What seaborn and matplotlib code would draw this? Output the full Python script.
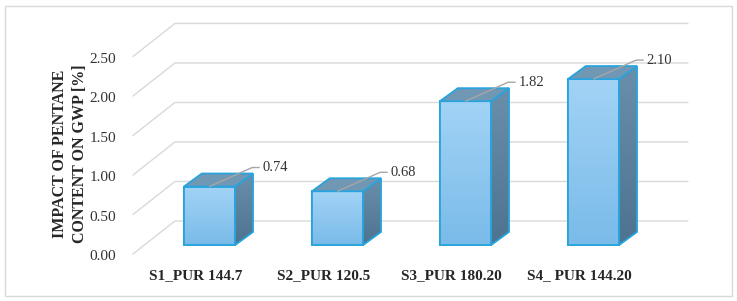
import matplotlib
matplotlib.use("Agg")
import matplotlib.pyplot as plt
import numpy as np
import pandas as pd
import seaborn as sns
from matplotlib.colors import LinearSegmentedColormap
from matplotlib.patches import Polygon, Rectangle

# data
scenarios = ['S1_PUR 144.7', 'S2_PUR 120.5', 'S3_PUR 180.20', 'S4_ PUR 144.20']
impact = [0.74, 0.68, 1.82, 2.10]
y_ticks = [0.0, 0.5, 1.0, 1.5, 2.0, 2.5]
y_label = 'IMPACT OF PENTANE\nCONTENT ON GWP [%]'

sns.set_style('white')
plt.rcParams['font.family'] = ['Liberation Serif', 'DejaVu Serif']

W, H = 737, 301
fig = plt.figure(figsize=(W / 100, H / 100), dpi=100)
ax = fig.add_axes([122 / W, (H - 262) / H, (720 - 122) / W, (262 - 10) / H])

df = pd.DataFrame({'scenario': scenarios, 'impact': impact})
sns.barplot(data=df, x='scenario', y='impact', width=0.4, color='#8ec6f0',
            edgecolor='#27a4dd', linewidth=1.3, ax=ax, zorder=3)

# 3d look: depth offsets in data units
dx, dy = 0.14, 0.165
edge = '#27a4dd'
front_cm = LinearSegmentedColormap.from_list('front', ['#a2d3f6', '#7abbe9'])
side_cm = LinearSegmentedColormap.from_list('side', ['#6a8fab', '#4d7390'])
grad = np.linspace(0, 1, 100).reshape(-1, 1)

for p in list(ax.patches):
    x0, y0 = p.get_x(), p.get_y()
    w, h = p.get_width(), p.get_height()
    x1 = x0 + w
    # extent bottom->top with origin upper: row 0 (light) at the top
    im = ax.imshow(grad, extent=[x0, x1, y0, y0 + h], aspect='auto', cmap=front_cm,
                   origin='upper', zorder=3.1)
    im.set_clip_path(p)
    ax.add_patch(Rectangle((x0, y0), w, h, fill=False, ec=edge, lw=1.3, zorder=3.2))

    side = Polygon([(x1, y0), (x1 + dx, y0 + dy), (x1 + dx, y0 + h + dy), (x1, y0 + h)],
                   closed=True, fc='#5a809c', ec='none', zorder=3)
    ax.add_patch(side)
    im2 = ax.imshow(grad, extent=[x1, x1 + dx, y0, y0 + h + dy], aspect='auto',
                    cmap=side_cm, origin='upper', zorder=3.1)
    im2.set_clip_path(side)
    ax.add_patch(Polygon(side.get_xy(), closed=True, fill=False, ec=edge, lw=1.3, zorder=3.2))

    top = Polygon([(x0, y0 + h), (x1, y0 + h), (x1 + dx, y0 + h + dy), (x0 + dx, y0 + h + dy)],
                  closed=True, fc='#7097b4', ec=edge, lw=1.3, zorder=3.2)
    ax.add_patch(top)

# gridlines on back wall and floor
back_off = 0.304
x_front, x_back, x_right = -0.598, -0.27, 3.738
for v in y_ticks:
    ax.plot([x_front, x_back, x_right], [v - 0.114, v + back_off, v + back_off],
            color='#d9d9d9', lw=1, zorder=1, clip_on=False)

# value labels with leader lines
for i, v in enumerate(impact):
    ax.annotate(f'{v:.2f}', xy=(i, v), xytext=(53, 19), textcoords='offset pixels',
                ha='left', va='center', fontsize=10.5, color='#333333',
                arrowprops=dict(arrowstyle='-', color='#a6a6a6', lw=1, shrinkA=0, shrinkB=0,
                                relpos=(0, 0.5),
                                connectionstyle='angle,angleA=0,angleB=24,rad=0'),
                zorder=5)

ax.set_xlim((122 - 209.5) / 128, (720 - 209.5) / 128)
ax.set_ylim((245 - 262) / 79, (245 - 10) / 79)

ax.set_yticks([v - 0.13 for v in y_ticks])
ax.set_yticklabels([f'{v:.2f}' for v in y_ticks], fontsize=11, color='#333333')
ax.set_xticks([i - 0.11 for i in range(len(scenarios))])
ax.set_xticklabels(scenarios, fontsize=11, fontweight='bold', color='#262626')
ax.tick_params(length=0)
ax.tick_params(axis='y', pad=4)
ax.tick_params(axis='x', pad=5)
ax.set_xlabel('')
ax.set_ylabel('')
for s in ax.spines.values():
    s.set_visible(False)
ax.patch.set_alpha(0)

fig.text(70 / W, 1 - 154 / H, y_label, rotation=90, ha='center', va='center',
         fontsize=11.5, fontweight='bold', linespacing=1.25, color='#262626')

fig.patches.append(Rectangle((5 / W, 5 / H), 727 / W, 290 / H, transform=fig.transFigure,
                             fill=False, ec='#d9d9d9', lw=1))

fig.savefig('out.png', dpi=100)
